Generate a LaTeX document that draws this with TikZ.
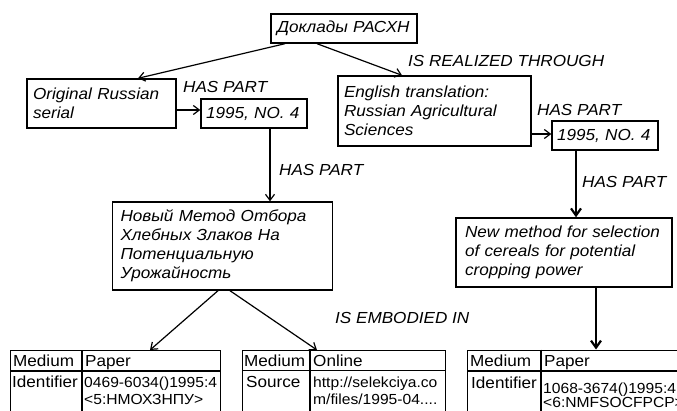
\documentclass[tikz,border=0pt]{standalone}
\usepackage{fontspec}
\setmainfont{Liberation Sans}[FakeStretch=1.07]
\usetikzlibrary{arrows.meta,calc}
\begin{document}
\begin{tikzpicture}[x=1pt,y=-1pt,
 box/.style={draw, line width=1.4pt, rectangle, inner xsep=6pt, inner ysep=0pt, align=left, font=\fontsize{16}{19}\selectfont\itshape},
 lbl/.style={anchor=base west, inner sep=0pt, font=\fontsize{16}{19}\selectfont\itshape},
 cell/.style={anchor=base west, inner sep=0pt, font=\fontsize{16}{17}\selectfont},
 cellsm/.style={cell, font=\fontsize{14.6}{17}\selectfont},
 arr/.style={-{Straight Barb[length=6pt,width=9pt]}, line width=1.2pt},
 tarr/.style={-{Straight Barb[length=7pt,width=10pt]}, line width=2.2pt},
 tab/.style={draw, line width=1.3pt, anchor=north west, inner sep=0pt},
 rule/.style={line width=1.3pt}
]
\useasboundingbox (0,0) rectangle (677,410);
\fill[white] (0,0) rectangle (677,410);
\clip (0,0) rectangle (677,410);

% boxes
\node[box, text width=134pt, minimum width=146pt, minimum height=29pt] (top) at (344,28.5) {Доклады РАСХН};
\node[box, text width=137pt, minimum width=149pt, minimum height=49pt] (orig) at (101.5,103.5) {Original Russian\\serial};
\node[box, inner xsep=5pt, text width=96pt, minimum width=106pt, minimum height=29pt] (v1) at (254,113.5) {1995, NO. 4};
\node[box, text width=181pt, minimum width=193pt, minimum height=70pt] (eng) at (434.5,111) {English translation:\\Russian Agricultural\\Sciences};
\node[box, inner xsep=5pt, text width=96pt, minimum width=106pt, minimum height=29pt] (v2) at (605,135.5) {1995, NO. 4};
\node[box, inner xsep=8pt, text width=204pt, minimum width=220pt, minimum height=88pt] (nov) at (222.5,246) {Новый Метод Отбора\\Хлебных Злаков На\\Потенциальную\\Урожайность};
\node[box, inner xsep=9pt, text width=198pt, minimum width=216pt, minimum height=69pt] (new) at (564,252.5) {New method for selection\\of cereals for potential\\cropping power};

% labels
\node[lbl] (l1) at (408,66) {IS REALIZED THROUGH};
\node[lbl] (l2) at (183,92) {HAS PART};
\node[lbl] (l3) at (279,175) {HAS PART};
\node[lbl] (l4) at (537,115) {HAS PART};
\node[lbl] (l5) at (582,187) {HAS PART};
\node[lbl] (l6) at (335,323) {IS EMBODIED IN};

% tables
\node[tab, minimum width=210pt, minimum height=80pt] (tab1) at (10,350) {};
\draw[rule] (tab1.west |- 0,371) -- (tab1.east |- 0,371);
\draw[rule] (tab1.north -| 82,0) -- (tab1.south -| 82,0);
\node[cell] (t1a) at (13,366) {Medium};
\node[cell] (t1b) at (85,366) {Paper};
\node[cell] (t1c) at (12,387) {Identifier};
\node[cellsm] (t1d) at (84,387) {0469-6034()1995:4};
\node[cellsm] (t1e) at (84,404) {<5:НМОХЗНПУ>};

\node[tab, minimum width=203pt, minimum height=80pt] (tab2) at (242,350) {};
\draw[rule] (tab2.west |- 0,370.5) -- (tab2.east |- 0,370.5);
\draw[rule] (tab2.north -| 310,0) -- (tab2.south -| 310,0);
\node[cell] (t2a) at (244,366) {Medium};
\node[cell] (t2b) at (313,366) {Online};
\node[cell] (t2c) at (246,387) {Source};
\node[cellsm] (t2d) at (313,387) {http://selekciya.co};
\node[cellsm] (t2e) at (313,404) {m/files/1995-04....};

\node[tab, minimum width=240pt, minimum height=80pt] (tab3) at (467,349.5) {};
\draw[rule] (tab3.west |- 0,371) -- (tab3.east |- 0,371);
\draw[rule] (tab3.north -| 541,0) -- (tab3.south -| 541,0);
\node[cell] (t3a) at (470,366) {Medium};
\node[cell] (t3b) at (544,366) {Paper};
\node[cell] (t3c) at (471,388) {Identifier};
\node[cellsm] (t3d) at (543,393) {1068-3674()1995:4};
\node[cellsm] (t3e) at (543,407) {<6:NMFSOCFPCP>};

% connectors
\draw[arr] ($(top.south)+(-59,0)$) -- ($(orig.north)+(36.5,0)$);
\draw[arr] ($(top.south)+(-27,0)$) -- ($(eng.north)+(-32.5,0)$);
\draw[arr] (orig.east |- 0,110) -- (v1.west |- 0,110);
\draw[arr] (v1.south -| 270,0) -- (nov.north -| 270,0);
\draw[arr] (eng.east |- 0,134) -- (v2.west |- 0,134);
\draw[tarr] (v2.south -| 576,0) -- (new.north -| 576,0);
\draw[arr] (nov.south -| 218,0) -- (tab1.north -| 150,0);
\draw[arr] (nov.south -| 230,0) -- (tab2.north -| 317,0);
\draw[tarr] (new.south -| 596,0) -- (tab3.north -| 596,0);
\end{tikzpicture}
\end{document}
